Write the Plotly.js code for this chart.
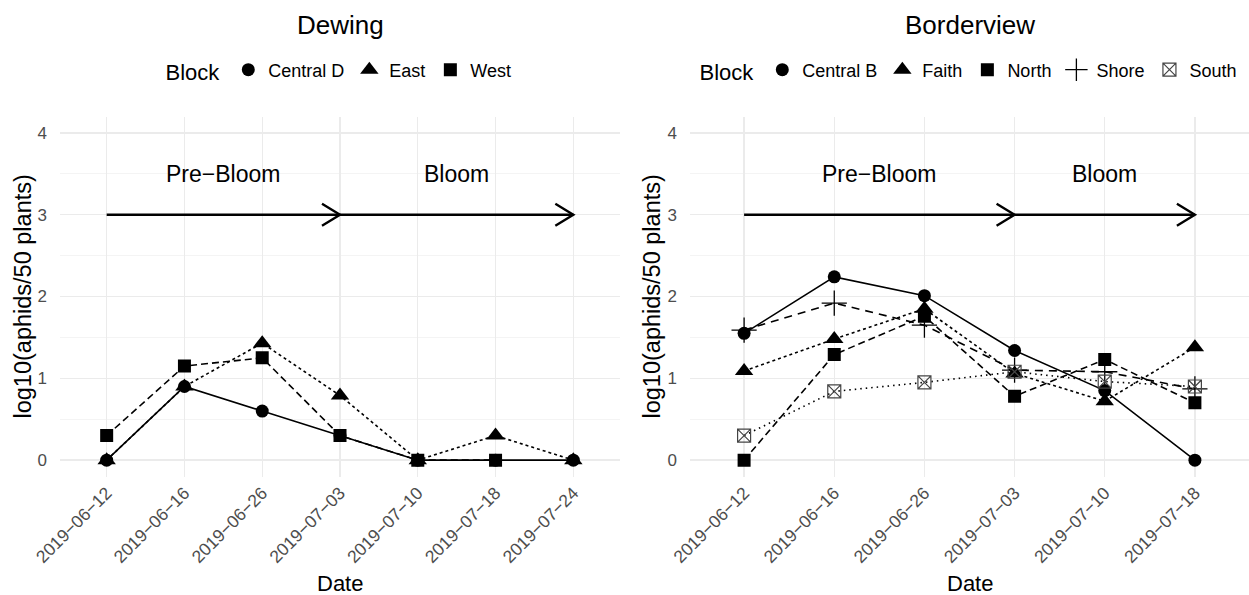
<!DOCTYPE html>
<html>
<head>
<meta charset="utf-8">
<script src="https://cdn.plot.ly/plotly-3.0.1.min.js"></script>
<style>
  html, body { margin: 0; padding: 0; background: #ffffff; }
  #chart { width: 1249px; height: 595px; }
</style>
</head>
<body>
<div id="chart"></div>
<script>
// ---------------- data ----------------
const datesDewing = ['2019-06-12','2019-06-16','2019-06-26','2019-07-03','2019-07-10','2019-07-18','2019-07-24'];
const dewingCentralD = [0, 0.90, 0.60, 0.30, 0, 0, 0];
const dewingEast     = [0, 0.90, 1.43, 0.79, 0, 0.30, 0];
const dewingWest     = [0.30, 1.15, 1.25, 0.30, 0, 0];

const datesBorder = ['2019-06-12','2019-06-16','2019-06-26','2019-07-03','2019-07-10','2019-07-18'];
const borderCentralB = [1.55, 2.24, 2.01, 1.34, 0.85, 0];
const borderFaith    = [1.09, 1.48, 1.85, 1.06, 0.72, 1.38];
const borderNorth    = [0, 1.29, 1.76, 0.78, 1.23, 0.70];
const borderShore    = [1.59, 1.92, 1.65, 1.10, 1.08, 0.87];
const borderSouth    = [0.30, 0.84, 0.95, 1.08, 0.96, 0.90];

const dewingBlocks = ['Central D', 'East', 'West'];
const borderBlocks = ['Central B', 'Faith', 'North', 'Shore', 'South'];

const panelTitles = ['Dewing', 'Borderview'];
const phaseLabels = ['Pre\u2212Bloom', 'Bloom'];
const phaseLabelXDewing = [1.5, 4.5];   // category positions (index)
const phaseLabelXBorder = [1.5, 4];
const phaseLabelY = 3.5;
const arrowY = 3;
const arrowsDewing = [['2019-06-12','2019-07-03'], ['2019-07-03','2019-07-24']];
const arrowsBorder = [['2019-06-12','2019-07-03'], ['2019-07-03','2019-07-18']];

const yTitle = 'log10(aphids/50 plants)';
const xTitle = 'Date';
const legendTitle = 'Block';

// ---------------- styles ----------------
const FONT = 'Liberation Sans, Arial, Helvetica, sans-serif';
const LW = 1.6;
const styles = {
  'Central D': {symbol: 'circle', size: 13, dash: 'solid'},
  'East':      {symbol: 'triangle-up', size: 16, dash: '3px,3px'},
  'West':      {symbol: 'square', size: 13, dash: '7px,4px'},
  'Central B': {symbol: 'circle', size: 13, dash: 'solid'},
  'Faith':     {symbol: 'triangle-up', size: 16, dash: '3px,3px'},
  'North':     {symbol: 'square', size: 13, dash: '7px,4px'},
  'Shore':     {symbol: 'cross-thin-open', size: 18, dash: '8px,6px', lineMarker: {color: '#000', width: 1.3}},
  'South':     {symbol: 'square-x-open', size: 13, dash: '1.5px,4px', lineMarker: {color: '#444', width: 1.2}, mcolor: '#444'}
};

function tickText(arr) { return arr.map(s => s.replace(/-/g, '\u2212')); }

function makeTrace(name, x, y, xa, ya) {
  const st = styles[name];
  const marker = {symbol: st.symbol, size: st.size, color: st.mcolor || '#000000'};
  if (st.lineMarker) marker.line = st.lineMarker;
  return {
    type: 'scatter', mode: 'lines+markers', name: name,
    x: x.slice(0, y.length), y: y, xaxis: xa, yaxis: ya,
    line: {color: '#000000', width: LW, dash: st.dash},
    marker: marker, showlegend: false, hoverinfo: 'x+y+name'
  };
}
function legendTrace(name, xa, ya, leg) {
  const st = styles[name];
  const marker = {symbol: st.symbol, size: st.size, color: st.mcolor || '#000000'};
  if (st.lineMarker) marker.line = st.lineMarker;
  return {type: 'scatter', mode: 'markers', name: name, x: [null], y: [null],
          xaxis: xa, yaxis: ya, marker: marker, legend: leg, showlegend: true};
}

const dewingSeries = [dewingCentralD, dewingEast, dewingWest];
const borderSeries = [borderCentralB, borderFaith, borderNorth, borderShore, borderSouth];

const traces = [];
dewingBlocks.forEach((b, i) => traces.push(makeTrace(b, datesDewing, dewingSeries[i], 'x', 'y')));
borderBlocks.forEach((b, i) => traces.push(makeTrace(b, datesBorder, borderSeries[i], 'x2', 'y2')));
dewingBlocks.forEach(b => traces.push(legendTrace(b, 'x', 'y', 'legend')));
borderBlocks.forEach(b => traces.push(legendTrace(b, 'x2', 'y2', 'legend2')));

// ---------------- layout ----------------
const W = 1249, H = 595;
const domL = [60 / W, 620 / W];
const domR = [690 / W, 1];
const domY = [1 - 476.5 / H, 1 - 116.5 / H];

function xAxis(cats, dom, anchor) {
  return {
    domain: dom, anchor: anchor, type: 'category',
    categoryorder: 'array', categoryarray: cats,
    tickvals: cats, ticktext: tickText(cats),
    range: [-0.6, cats.length - 1 + 0.6],
    tickangle: -45, ticks: '', showline: false, zeroline: false,
    showgrid: true, gridcolor: '#ebebeb', gridwidth: 1.4,
    tickfont: {family: FONT, size: 17.5, color: '#4d4d4d'},
    ticklabelstandoff: 2,
    automargin: false, fixedrange: true
  };
}
function yAxis(anchor) {
  return {
    domain: domY, anchor: anchor, range: [-0.2, 4.2],
    tickvals: [0, 1, 2, 3, 4], ticks: '', showline: false, zeroline: false,
    showgrid: true, gridcolor: '#ebebeb', gridwidth: 1.4,
    minor: {dtick: 0.5, tick0: 0, showgrid: true, gridcolor: '#f1f1f1', gridwidth: 0.8},
    tickfont: {family: FONT, size: 17, color: '#4d4d4d'},
    ticklabelstandoff: 12,
    automargin: false, fixedrange: true
  };
}

const annotations = [];
// panel titles and x titles
[[domL, panelTitles[0]], [domR, panelTitles[1]]].forEach(([d, t]) => {
  annotations.push({xref: 'paper', yref: 'paper', x: (d[0] + d[1]) / 2, y: 1 - 25 / H,
    text: t, showarrow: false, xanchor: 'center', yanchor: 'middle',
    font: {family: FONT, size: 26, color: '#000'}});
  annotations.push({xref: 'paper', yref: 'paper', x: (d[0] + d[1]) / 2, y: 1 - 583 / H,
    text: xTitle, showarrow: false, xanchor: 'center', yanchor: 'middle',
    font: {family: FONT, size: 22, color: '#000'}});
});
// y titles
[22, 651].forEach(px => {
  annotations.push({xref: 'paper', yref: 'paper', x: px / W, y: (domY[0] + domY[1]) / 2,
    text: yTitle, textangle: -90, showarrow: false, xanchor: 'center', yanchor: 'middle',
    font: {family: FONT, size: 23.5, color: '#000'}});
});
// phase labels
phaseLabels.forEach((t, i) => {
  annotations.push({xref: 'x', yref: 'y', x: phaseLabelXDewing[i], y: phaseLabelY, text: t,
    showarrow: false, font: {family: FONT, size: 23, color: '#000'}});
  annotations.push({xref: 'x2', yref: 'y2', x: phaseLabelXBorder[i], y: phaseLabelY, text: t,
    showarrow: false, font: {family: FONT, size: 23, color: '#000'}});
});

const shapes = [];
function addArrows(list, cats, xr, yr) {
  list.forEach(([a, b]) => {
    const i0 = cats.indexOf(a), i1 = cats.indexOf(b);
    shapes.push({type: 'line', xref: xr, yref: yr, x0: i0, x1: i1, y0: arrowY, y1: arrowY,
      line: {color: '#000', width: 2.4}});
    shapes.push({type: 'path', xref: xr, yref: yr, xsizemode: 'pixel', ysizemode: 'pixel',
      xanchor: i1, yanchor: arrowY, path: 'M-18,11L0,0L-18,-11',
      line: {color: '#000', width: 2.4}});
  });
}
addArrows(arrowsDewing, datesDewing, 'x', 'y');
addArrows(arrowsBorder, datesBorder, 'x2', 'y2');

function legendCfg(d) {
  return {
    orientation: 'h', x: (d[0] + d[1]) / 2, xanchor: 'center', y: 1 - 71 / H, yanchor: 'middle',
    title: {text: legendTitle, side: 'left', font: {family: FONT, size: 22, color: '#000'}},
    font: {family: FONT, size: 18, color: '#000'},
    itemwidth: 30, bgcolor: 'rgba(0,0,0,0)', borderwidth: 0, traceorder: 'normal'
  };
}

const layout = {
  width: W, height: H,
  margin: {l: 0, r: 0, t: 0, b: 0, pad: 0},
  paper_bgcolor: '#ffffff', plot_bgcolor: '#ffffff',
  font: {family: FONT, color: '#000'},
  xaxis: xAxis(datesDewing, domL, 'y'),
  yaxis: yAxis('x'),
  xaxis2: xAxis(datesBorder, domR, 'y2'),
  yaxis2: yAxis('x2'),
  legend: legendCfg(domL),
  legend2: legendCfg(domR),
  annotations: annotations,
  shapes: shapes,
  hovermode: 'closest'
};

Plotly.newPlot('chart', traces, layout, {displayModeBar: false, staticPlot: true});
</script>
</body>
</html>
